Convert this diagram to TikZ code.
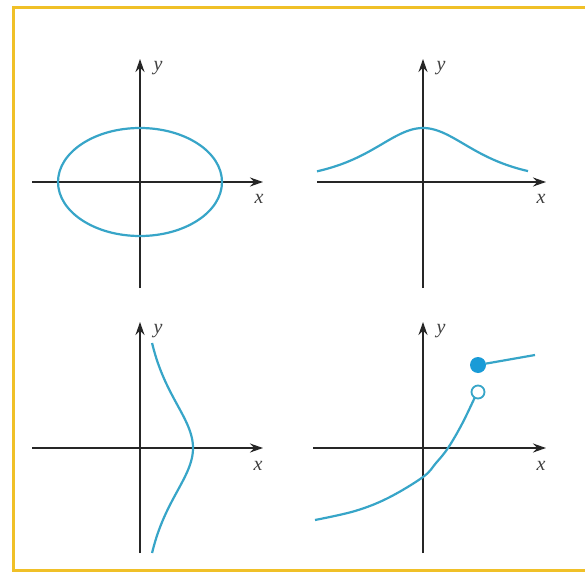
\documentclass[tikz,border=0pt]{standalone}
\usepackage{fontspec}
\setmainfont{Liberation Serif}
\usetikzlibrary{arrows.meta}
\definecolor{frameyel}{RGB}{240,192,40}
\definecolor{curveblue}{RGB}{55,165,200}
\definecolor{dotblue}{RGB}{25,155,215}
\tikzset{
  axis/.style={line width=1.7pt, black!85, -{Stealth[length=13pt,width=9pt]}},
  curve/.style={line width=2.2pt, curveblue},
  lbl/.style={font=\fontsize{20}{20}\selectfont\itshape, text=black!75, inner sep=0pt},
}
\begin{document}
\begin{tikzpicture}[x=1pt,y=-1pt]
\useasboundingbox (0,0) rectangle (585,577);
\fill[white] (0,0) rectangle (585,577);
\begin{scope}
\clip (0,0) rectangle (585,577);
\draw[frameyel, line width=3.4pt] (13.5,7.5) rectangle (600,570.5);
\end{scope}

% ---------- panel 1: ellipse ----------
\coordinate (a1l) at (32,182);  \coordinate (a1r) at (263,182);
\coordinate (a1b) at (140,288); \coordinate (a1t) at (140,59);
\draw[axis] (a1b) -- (a1t);
\draw[axis] (a1l) -- (a1r);
\draw[curve] (140,182) ellipse [x radius=82, y radius=54];
\node[lbl] (y1) at (158,68) {y};
\node[lbl] (x1) at (259,199) {x};

% ---------- panel 2: bell curve ----------
\coordinate (a2l) at (317,182); \coordinate (a2r) at (546,182);
\coordinate (a2b) at (423,288); \coordinate (a2t) at (423,59);
\draw[axis] (a2b) -- (a2t);
\draw[axis] (a2l) -- (a2r);
\draw[curve] plot[domain=-106:105, samples=100, smooth] ({423+\x},{182-54/cosh(\x/46)});
\node[lbl] (y2) at (441,68) {y};
\node[lbl] (x2) at (541,199) {x};

% ---------- panel 3: sideways bell ----------
\coordinate (a3l) at (32,448);  \coordinate (a3r) at (263,448);
\coordinate (a3b) at (140,553); \coordinate (a3t) at (140,322);
\draw[axis] (a3b) -- (a3t);
\draw[axis] (a3l) -- (a3r);
\draw[curve] plot[domain=-105:105, samples=100, smooth] ({140+53/cosh(\x/48.6)},{448+\x});
\node[lbl] (y3) at (158,331) {y};
\node[lbl] (x3) at (258,466) {x};

% ---------- panel 4: jump ----------
\coordinate (a4l) at (313,448); \coordinate (a4r) at (546,448);
\coordinate (a4b) at (423,553); \coordinate (a4t) at (423,322);
\draw[axis] (a4b) -- (a4t);
\draw[axis] (a4l) -- (a4r);
\draw[curve] plot[smooth, tension=0.6] coordinates {(315,520) (355,511) (388,498) (423,477) (436,463) (448,448) (462,424) (475,397)};
\node[circle, draw=curveblue, line width=1.8pt, fill=white, minimum size=13pt, inner sep=0pt] (open) at (478,392) {};
\node[circle, fill=dotblue, minimum size=16pt, inner sep=0pt] (closed) at (478,365) {};
\coordinate (tailend) at (535,355);
\draw[curve] (closed) -- (tailend);
\node[lbl] (y4) at (441,331) {y};
\node[lbl] (x4) at (541,466) {x};
\end{tikzpicture}
\end{document}
